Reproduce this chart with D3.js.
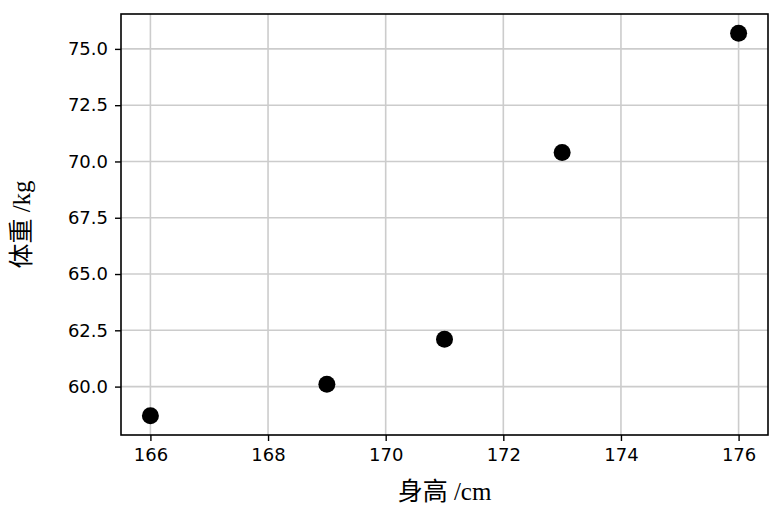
<!DOCTYPE html>
<html>
<head>
<meta charset="utf-8">
<script src="https://cdn.jsdelivr.net/npm/d3@7"></script>
<style>
  body { margin: 0; background: #fff; }
  svg .tick text { font-family: "DejaVu Sans", sans-serif !important; font-size: 18px !important; }
</style>
</head>
<body>
<div class="chart"></div>
<script>
'use strict';

const heights = [166, 169, 171, 173, 176];
const weights = [58.7, 60.1, 62.1, 70.4, 75.7];
const xTicks = [166, 168, 170, 172, 174, 176];
const yTicks = [60, 62.5, 65, 67.5, 70, 72.5, 75];

const WIDTH = 784;
const HEIGHT = 506;
const margin = {top: 14, right: 16, bottom: 71, left: 121};
const LABEL_FONT = '"Liberation Serif", "DejaVu Serif", "Noto Sans CJK SC", serif';

const svg = d3.select('.chart')
  .append('svg')
    .attr('width', WIDTH)
    .attr('height', HEIGHT);

const x = d3.scaleLinear()
    .domain([165.5, 176.5])
    .range([margin.left, WIDTH - margin.right]);

const y = d3.scaleLinear()
    .domain([57.85, 76.55])
    .range([HEIGHT - margin.bottom, margin.top]);

// grid
svg.append('g')
  .selectAll('line')
  .data(xTicks)
  .enter().append('line')
    .attr('x1', d => x(d)).attr('x2', d => x(d))
    .attr('y1', margin.top).attr('y2', HEIGHT - margin.bottom)
    .attr('stroke', '#cccccc').attr('stroke-width', 1.6);

svg.append('g')
  .selectAll('line')
  .data(yTicks)
  .enter().append('line')
    .attr('x1', margin.left).attr('x2', WIDTH - margin.right)
    .attr('y1', d => y(d)).attr('y2', d => y(d))
    .attr('stroke', '#cccccc').attr('stroke-width', 1.6);

// axes
const xAxis = svg.append('g')
    .attr('transform', `translate(0,${HEIGHT - margin.bottom})`)
    .call(d3.axisBottom(x).tickValues(xTicks).tickSize(6).tickPadding(7).tickFormat(d3.format('d')));

const yAxis = svg.append('g')
    .attr('transform', `translate(${margin.left},0)`)
    .call(d3.axisLeft(y).tickValues(yTicks).tickSize(6).tickPadding(7).tickFormat(d3.format('.1f')));

[xAxis, yAxis].forEach(a => {
  a.select('.domain').remove();
  a.attr('font-size', 18).attr('font-family', 'DejaVu Sans');
  a.selectAll('.tick line').attr('stroke', '#000').attr('stroke-width', 1.4);
  a.selectAll('.tick text')
    .attr('font-size', 18)
    .attr('font-family', 'DejaVu Sans')
    .attr('fill', '#000');
});

// frame
svg.append('rect')
    .attr('x', margin.left).attr('y', margin.top)
    .attr('width', WIDTH - margin.left - margin.right)
    .attr('height', HEIGHT - margin.top - margin.bottom)
    .attr('fill', 'none').attr('stroke', '#000').attr('stroke-width', 1.6);

// points
svg.append('g')
  .selectAll('circle')
  .data(heights)
  .enter().append('circle')
    .attr('cx', d => x(d))
    .attr('cy', (d, i) => y(weights[i]))
    .attr('r', 8.5)
    .attr('fill', '#000');

// labels
svg.append('text')
    .attr('x', (margin.left + WIDTH - margin.right) / 2)
    .attr('y', 500)
    .attr('text-anchor', 'middle')
    .style('font-family', LABEL_FONT)
    .style('font-size', '25px')
    .text('身高 /cm');

svg.append('text')
    .attr('transform', `translate(30,${(margin.top + HEIGHT - margin.bottom) / 2}) rotate(-90)`)
    .attr('text-anchor', 'middle')
    .style('font-family', LABEL_FONT)
    .style('font-size', '25px')
    .text('体重 /kg');
</script>
</body>
</html>
